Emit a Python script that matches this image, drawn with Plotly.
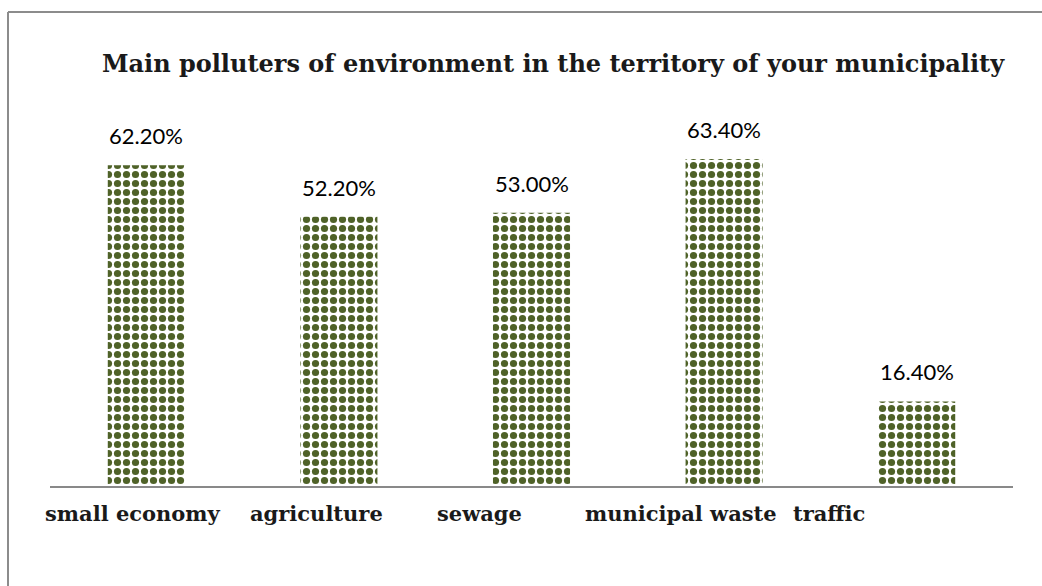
import plotly.graph_objects as go

categories = ["small economy", "agriculture", "sewage", "municipal waste", "traffic"]
values = [0.622, 0.522, 0.530, 0.634, 0.164]
labels = ["62.20%", "52.20%", "53.00%", "63.40%", "16.40%"]

# horizontal offset (px) of each category label, as in the original layout
label_shift = [-13, -22, -52, -43, -88]

W, H = 1042, 586
L, R, T, B = 50, 29, 125, 100
pw = W - L - R
ph = H - T - B

def px_x(x):
    return (x - L) / pw

def px_y(y):
    return (H - B - y) / ph

SERIF = "DejaVu Serif, serif"

fig = go.Figure()
fig.add_trace(go.Bar(
    x=categories, y=values, width=0.4,
    marker=dict(color="#ffffff", line=dict(width=0),
                pattern=dict(shape=".", fgcolor="#4F6228", bgcolor="#ffffff", fgopacity=1,
                             size=9, solidity=0.5, fillmode="overlay")),
    hoverinfo="skip",
))

annotations = []
for c, v, t in zip(categories, values, labels):
    annotations.append(dict(x=c, y=v, xref="x", yref="y", text=t, showarrow=False,
                            yanchor="bottom", yshift=14,
                            font=dict(family="Lato, Open Sans, sans-serif", size=22, color="#000000")))
for c, s in zip(categories, label_shift):
    annotations.append(dict(x=c, y=0, xref="x", yref="y", text="<b>" + c + "</b>", showarrow=False,
                            yanchor="middle", yshift=-27, xshift=s,
                            font=dict(family=SERIF, size=21, color="#1a1a1a")))

fig.update_layout(
    width=W, height=H,
    margin=dict(l=L, r=R, t=T, b=B),
    paper_bgcolor="#ffffff", plot_bgcolor="#ffffff",
    showlegend=False,
    title=dict(text="<b>Main polluters of environment in the territory of your municipality</b>",
               x=px_x(553), xref="paper", xanchor="center",
               y=1 - 64 / H, yref="container", yanchor="middle",
               font=dict(family=SERIF, size=24, color="#1a1a1a")),
    xaxis=dict(range=[-0.5, len(categories) - 0.5], showgrid=False, zeroline=False,
               showline=True, linecolor="#898989", linewidth=2,
               ticks="", showticklabels=False),
    yaxis=dict(range=[0, 0.7], showgrid=False, zeroline=False, showline=False,
               showticklabels=False, ticks=""),
    annotations=annotations,
    shapes=[
        dict(type="line", xref="paper", yref="paper", x0=px_x(8), x1=px_x(1042), y0=px_y(12), y1=px_y(12),
             line=dict(color="#8c8c8c", width=2)),
        dict(type="line", xref="paper", yref="paper", x0=px_x(8), x1=px_x(8), y0=px_y(12), y1=px_y(586),
             line=dict(color="#8c8c8c", width=2)),
    ],
)

fig.write_html("out.html")
